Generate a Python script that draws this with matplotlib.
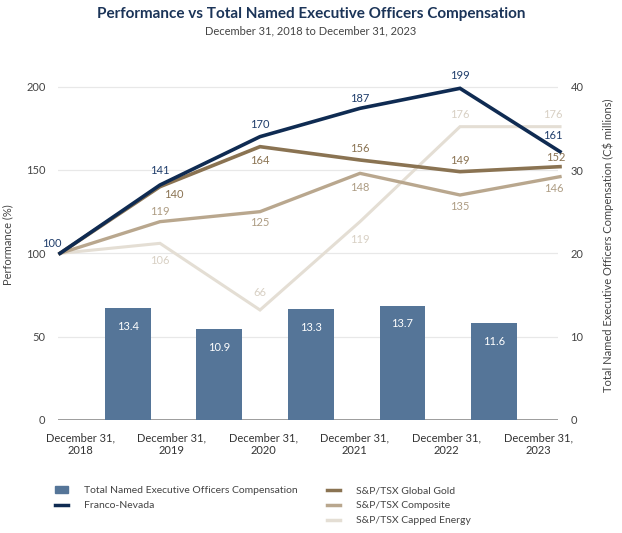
# -*- coding: utf-8 -*-

# Performance vs Total NEO compensation

import numpy as np
import matplotlib.pyplot as plt
from matplotlib.lines import Line2D
from matplotlib.patches import Patch

plt.rcParams['font.family'] = ['Lato', 'DejaVu Sans']

# Data
years = ['December 31,\n2018', 'December 31,\n2019', 'December 31,\n2020',
         'December 31,\n2021', 'December 31,\n2022', 'December 31,\n2023']
franco_nevada = [100, 141, 170, 187, 199, 161]
global_gold = [100, 140, 164, 156, 149, 152]
composite = [100, 119, 125, 148, 135, 146]
capped_energy = [100, 106, 66, 119, 176, 176]
neo_comp = [13.4, 10.9, 13.3, 13.7, 11.6]   # C$ millions, 2019-2023

# label offsets (px) for each point: (dx, dy)
off_fn = [(-8, 10), (0, 14), (0, 12), (0, 10), (0, 13), (-7, 16)]
off_gg = [None, (14, -8), (0, -14), (0, 11), (0, 11), (-4, 9)]
off_cp = [None, (0, 10), (0, -11), (0, -14), (0, -11), (-6, -12)]
off_en = [None, (0, -17), (0, 17), (0, -18), (0, 12), (-7, 12)]

c_fn = '#0f2b52'
c_gg = '#8a7352'
c_cp = '#b9a78e'
c_en = '#e4ded4'
c_bar = '#557598'
c_txt = '#444444'

fig = plt.figure(figsize=(6.22, 5.33), dpi=100)
W, H = 622, 533
left, right, bottom, top = 58, 558, 420, 70
pos = [left / W, 1 - bottom / H, (right - left) / W, (bottom - top) / H]

# bar axis (bottom) - categories + right-side axis
axb = fig.add_axes(pos)
x_lab = np.arange(len(years))
x_bar = np.arange(len(neo_comp)) + 0.52
axb.set_xlim(-(80 - left) / 91.6, -(80 - left) / 91.6 + (right - left) / 91.6)
axb.set_ylim(0, 42)
for y in [10, 20, 30, 40]:
    axb.axhline(y, color='#e8e8e8', lw=0.9, zorder=0)
axb.axhline(0, color='#8c8c8c', lw=1.2, zorder=1)
axb.bar(x_bar, neo_comp, width=0.5, color=c_bar, zorder=2)
for xb, v in zip(x_bar, neo_comp):
    axb.annotate(f'{v}', (xb, v), xytext=(0, -13), textcoords='offset points',
                 ha='center', va='center', color='white', fontsize=8)
axb.set_xticks(x_lab)
axb.set_xticklabels(years, fontsize=8, color='#333333', linespacing=1.15,
                    multialignment='center')
axb.yaxis.tick_right()
axb.yaxis.set_label_position('right')
axb.set_yticks([0, 10, 20, 30, 40])
axb.tick_params(axis='y', length=0, pad=9, labelsize=8, labelcolor=c_txt)
axb.tick_params(axis='x', length=0, pad=9)
axb.set_ylabel('Total Named Executive Officers Compensation (C$ millions)',
               fontsize=8, color=c_txt, labelpad=14)
for s in axb.spines.values():
    s.set_visible(False)

# line axis (on top) - performance
axl = fig.add_axes(pos)
axl.patch.set_alpha(0)
axl.set_xlim(-0.02, 4.98)
axl.set_ylim(0, 210)
xl = np.arange(len(franco_nevada))
series = [(capped_energy, c_en, 2.2, off_en, '#d8d0c4'),
          (composite, c_cp, 2.4, off_cp, '#ad9c83'),
          (global_gold, c_gg, 2.6, off_gg, '#8a7352'),
          (franco_nevada, c_fn, 2.6, off_fn, '#1f3d6b')]
for vals, col, lw, offs, tcol in series:
    axl.plot(xl, vals, color=col, lw=lw, clip_on=False, solid_joinstyle='miter')
    for xi, v, o in zip(xl, vals, offs):
        if o is None:
            continue
        axl.annotate(f'{v}', (xi, v), xytext=(o[0] * 0.72, o[1] * 0.72),
                     textcoords='offset points', ha='center', va='center',
                     color=tcol, fontsize=8, annotation_clip=False)
axl.set_xticks([])
axl.set_yticks([0, 50, 100, 150, 200])
axl.tick_params(axis='y', length=0, pad=9, labelsize=8, labelcolor=c_txt)
axl.set_ylabel('Performance (%)', fontsize=8, color=c_txt, labelpad=9)
for s in axl.spines.values():
    s.set_visible(False)

# titles
fig.text(311 / W, 1 - 14 / H, 'Performance vs Total Named Executive Officers Compensation',
         ha='center', va='center', fontsize=11, fontweight='bold', color='#1b3458')
fig.text(311 / W, 1 - 31 / H, 'December 31, 2018 to December 31, 2023',
         ha='center', va='center', fontsize=8, color='#444444')

# legends
h1 = [Patch(color=c_bar), Line2D([], [], color=c_fn, lw=2.5)]
l1 = ['Total Named Executive Officers Compensation', 'Franco-Nevada']
h2 = [Line2D([], [], color=c_gg, lw=2.5), Line2D([], [], color=c_cp, lw=2.5),
      Line2D([], [], color=c_en, lw=2.5)]
l2 = ['S&P/TSX Global Gold', 'S&P/TSX Composite', 'S&P/TSX Capped Energy']
kw = dict(frameon=False, fontsize=7.5, handlelength=1.2, handleheight=0.7,
          handletextpad=1.6, labelspacing=0.55, borderaxespad=0, borderpad=0,
          labelcolor='#444444')
fig.legend(h1, l1, loc='upper left', bbox_to_anchor=(55 / W, 1 - 486 / H), **kw)
fig.legend(h2, l2, loc='upper left', bbox_to_anchor=(327 / W, 1 - 486 / H), **kw)

fig.savefig('out.png', dpi=100)
